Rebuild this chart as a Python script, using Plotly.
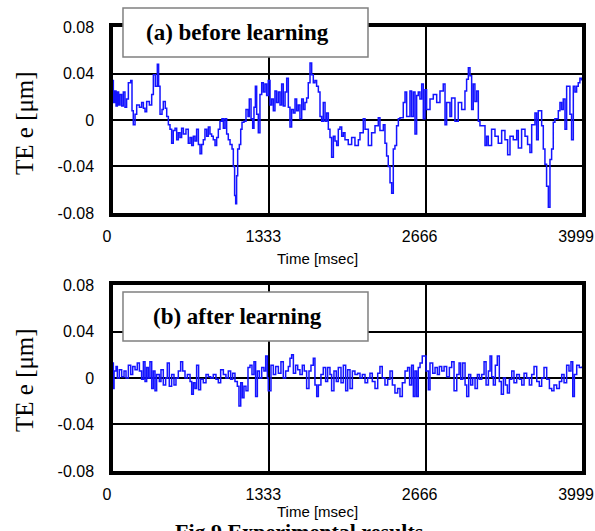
import plotly.graph_objects as go

# ---------------- data ----------------
# (a) before learning : time [msec], tracking error e [um]
t_a = [0, 3, 14, 26, 37, 48, 60, 74, 88, 102,
       116, 131, 151, 162, 173, 188, 202, 225, 244, 259,
       273, 287, 310, 330, 344, 361, 378, 389, 401, 418,
       429, 446, 458, 472, 486, 500, 514, 529, 543, 557,
       571, 585, 600, 622, 642, 657, 671, 685, 699, 713,
       728, 742, 756, 770, 784, 799, 813, 827, 841, 855,
       870, 884, 898, 912, 929, 941, 955, 969, 983, 998,
       1015, 1026, 1037, 1046, 1054, 1063, 1077, 1089, 1100, 1117,
       1134, 1151, 1162, 1177, 1191, 1202, 1214, 1225, 1239, 1253,
       1268, 1282, 1296, 1310, 1324, 1339, 1353, 1367, 1381, 1395,
       1410, 1424, 1438, 1452, 1467, 1481, 1495, 1509, 1523, 1538,
       1552, 1566, 1580, 1594, 1609, 1623, 1637, 1651, 1665, 1680,
       1694, 1708, 1722, 1736, 1751, 1765, 1779, 1793, 1808, 1822,
       1836, 1850, 1864, 1879, 1893, 1907, 1921, 1935, 1950, 1964,
       1978, 2006, 2035, 2063, 2092, 2106, 2134, 2149, 2177, 2205,
       2234, 2262, 2276, 2305, 2319, 2333, 2347, 2362, 2376, 2390,
       2404, 2418, 2433, 2447, 2475, 2490, 2504, 2532, 2546, 2561,
       2575, 2589, 2603, 2617, 2632, 2646, 2660, 2674, 2703, 2731,
       2760, 2788, 2816, 2831, 2845, 2873, 2887, 2916, 2944, 2973,
       3001, 3015, 3030, 3044, 3058, 3072, 3086, 3101, 3115, 3129,
       3157, 3172, 3186, 3200, 3228, 3257, 3285, 3314, 3342, 3365,
       3385, 3413, 3442, 3456, 3484, 3513, 3535, 3555, 3570, 3598,
       3612, 3626, 3655, 3669, 3683, 3697, 3712, 3726, 3740, 3754,
       3768, 3797, 3811, 3825, 3839, 3854, 3868, 3882, 3896, 3910,
       3925, 3939, 3953, 3967, 3981, 3995]
e_a = [0.034, 0.015, 0.025, 0.012, 0.024, 0.013, 0.022, 0.012, 0.024, 0.011,
       0.018, 0.032, 0.034, 0.008, -0.004, 0.005, 0.013, 0.011, 0.015, 0.010,
       0.007, 0.016, 0.013, 0.022, 0.039, 0.029, 0.048, 0.029, 0.005, 0.009,
       0.016, 0.010, 0.003, -0.004, -0.008, -0.020, -0.009, -0.007, -0.017, -0.011,
       -0.015, -0.007, -0.012, -0.008, -0.020, -0.015, -0.022, -0.014, -0.018, -0.008,
       -0.021, -0.029, -0.021, -0.017, -0.008, -0.014, -0.006, -0.012, -0.014, -0.017,
       -0.022, -0.015, -0.008, -0.001, 0.001, -0.007, 0.001, -0.012, -0.017, -0.021,
       -0.025, -0.040, -0.065, -0.072, -0.048, -0.025, -0.021, -0.008, -0.002, -0.001,
       0.009, 0.003, 0.018, 0.001, -0.007, 0.011, 0.029, 0.005, -0.011, 0.022,
       0.032, 0.024, 0.031, 0.021, 0.034, 0.013, 0.018, 0.008, 0.025, 0.015,
       0.024, 0.013, 0.031, 0.012, 0.024, 0.036, 0.011, -0.006, 0.009, 0.006,
       0.018, 0.008, 0.013, 0.001, 0.018, 0.009, 0.015, 0.019, 0.032, 0.049,
       0.039, 0.032, 0.034, 0.029, 0.024, 0.003, -0.001, 0.015, -0.001, 0.006,
       -0.008, -0.015, -0.032, -0.014, -0.018, -0.022, -0.008, -0.006, -0.014, -0.011,
       -0.017, -0.021, -0.015, -0.022, -0.017, -0.011, 0.001, -0.008, -0.022, -0.011,
       -0.005, 0.002, -0.009, -0.004, -0.020, -0.031, -0.040, -0.054, -0.063, -0.025,
       -0.022, -0.005, 0.001, 0.002, 0.015, 0.024, 0.003, 0.025, 0.003, 0.024,
       -0.012, 0.021, 0.024, 0.018, 0.031, 0.001, 0.026, 0.009, 0.018, 0.022,
       0.015, 0.025, 0.031, -0.004, 0.015, 0.003, 0.019, -0.001, 0.015, 0.009,
       0.025, 0.035, 0.045, 0.038, 0.009, 0.031, 0.016, 0.025, -0.001, -0.005,
       -0.005, -0.022, -0.014, -0.022, -0.008, -0.014, -0.020, -0.009, -0.017, -0.030,
       -0.014, -0.017, -0.009, -0.024, -0.008, -0.014, -0.021, -0.028, -0.004, 0.006,
       -0.017, 0.008, -0.005, -0.025, -0.038, -0.057, -0.075, -0.034, -0.025, -0.002,
       0.001, 0.008, 0.015, 0.009, 0.018, -0.008, 0.029, 0.029, 0.005, -0.017,
       0.029, 0.024, 0.029, 0.032, 0.036, 0.034]

# (b) after learning
t_b = [0, 3, 9, 26, 37, 54, 74, 94, 111, 131,
       151, 168, 188, 207, 225, 244, 259, 273, 287, 301,
       315, 330, 344, 358, 372, 395, 409, 429, 449, 463,
       480, 500, 520, 537, 557, 577, 594, 614, 634, 657,
       671, 685, 699, 713, 730, 747, 770, 793, 813, 833,
       855, 878, 898, 918, 941, 963, 983, 1003, 1020, 1040,
       1060, 1074, 1089, 1103, 1117, 1134, 1151, 1168, 1185, 1202,
       1216, 1231, 1248, 1268, 1287, 1302, 1316, 1324, 1347, 1367,
       1387, 1410, 1432, 1452, 1472, 1495, 1509, 1523, 1538, 1557,
       1575, 1594, 1614, 1631, 1651, 1671, 1688, 1708, 1722, 1737,
       1751, 1773, 1793, 1813, 1830, 1850, 1864, 1884, 1904, 1921,
       1944, 1964, 1984, 2001, 2021, 2041, 2063, 2086, 2106, 2126,
       2149, 2171, 2191, 2211, 2234, 2257, 2276, 2296, 2319, 2342,
       2362, 2382, 2404, 2427, 2447, 2467, 2490, 2512, 2529, 2546,
       2561, 2575, 2589, 2603, 2618, 2637, 2652, 2669, 2689, 2703,
       2726, 2746, 2766, 2783, 2803, 2823, 2845, 2868, 2888, 2908,
       2931, 2951, 2965, 2982, 3002, 3016, 3033, 3050, 3067, 3087,
       3107, 3124, 3144, 3164, 3181, 3201, 3215, 3229, 3243, 3260,
       3277, 3294, 3311, 3329, 3346, 3363, 3380, 3400, 3419, 3442,
       3465, 3485, 3505, 3527, 3550, 3570, 3590, 3613, 3635, 3655,
       3675, 3698, 3721, 3741, 3760, 3783, 3806, 3826, 3846, 3868,
       3888, 3905, 3920, 3934, 3954, 3976, 3996]
e_b = [0.013, -0.009, 0.006, 0.010, 0.000, 0.007, 0.001, 0.006, 0.000, 0.011,
       0.003, 0.010, 0.007, 0.013, 0.006, -0.001, 0.014, -0.003, 0.009, 0.000,
       0.014, -0.009, 0.006, -0.011, 0.003, -0.003, 0.007, -0.006, 0.000, 0.013,
       -0.007, 0.003, -0.006, 0.000, 0.006, 0.014, 0.006, 0.000, 0.003, -0.003,
       -0.014, -0.004, -0.009, 0.011, -0.010, -0.001, -0.004, 0.003, 0.001, 0.000,
       0.003, -0.001, -0.004, 0.007, 0.003, 0.000, 0.006, -0.001, 0.004, -0.003,
       -0.007, -0.024, -0.004, -0.017, -0.007, -0.011, 0.009, 0.011, 0.003, 0.014,
       -0.016, 0.006, 0.000, 0.009, 0.006, 0.019, 0.000, -0.011, 0.011, 0.003,
       0.010, 0.004, 0.014, 0.000, 0.006, 0.010, 0.017, 0.020, 0.004, 0.011,
       0.007, 0.003, 0.011, 0.006, -0.009, 0.006, 0.011, 0.017, -0.006, -0.016,
       -0.006, 0.003, 0.009, -0.003, 0.009, 0.003, -0.011, 0.006, -0.003, 0.009,
       -0.004, 0.011, -0.011, 0.007, -0.009, 0.006, 0.003, 0.004, 0.000, 0.003,
       -0.004, 0.000, 0.004, -0.003, -0.009, 0.004, 0.010, 0.000, -0.006, -0.001,
       0.006, -0.006, -0.013, -0.009, -0.016, -0.004, 0.006, 0.009, -0.006, 0.011,
       -0.016, 0.006, -0.016, 0.009, 0.013, 0.019, 0.019, 0.006, -0.010, 0.013,
       0.004, 0.009, 0.003, 0.010, 0.006, 0.010, 0.001, 0.009, 0.014, -0.011,
       0.003, 0.013, -0.001, 0.013, -0.006, -0.016, 0.003, -0.006, 0.000, -0.009,
       0.003, -0.001, 0.003, 0.014, -0.006, 0.006, 0.019, 0.001, -0.006, 0.011,
       0.019, -0.003, -0.014, 0.000, -0.006, -0.013, -0.001, 0.006, -0.004, 0.003,
       -0.001, -0.006, 0.004, 0.000, -0.006, 0.003, 0.010, -0.003, -0.007, 0.000,
       0.009, -0.001, -0.009, -0.011, -0.006, -0.009, -0.003, 0.003, -0.004, 0.011,
       0.006, 0.014, -0.016, 0.003, 0.011, 0.009, 0.010]

assert len(t_a) == len(e_a), (len(t_a), len(e_a))
assert len(t_b) == len(e_b), (len(t_b), len(e_b))

x_ticks = [0, 1333, 2666, 3999]
x_labels = ["0", "1333", "2666", "3999"]
y_ticks = [-0.08, -0.04, 0, 0.04, 0.08]
y_labels = ["-0.08", "-0.04", "0", "0.04", "0.08"]

panel_titles = ["(a) before learning", "(b) after learning"]
x_title = "Time [msec]"
y_title = "TE e [μm]"
caption = "Fig.9 Experimental results"

# ---------------- figure ----------------
LINE = dict(color="#1414ff", width=1.5, shape="hv")
fig = go.Figure()
fig.add_trace(go.Scatter(x=t_a, y=e_a, mode="lines", line=LINE,
                         xaxis="x", yaxis="y", showlegend=False))
fig.add_trace(go.Scatter(x=t_b, y=e_b, mode="lines", line=LINE,
                         xaxis="x2", yaxis="y2", showlegend=False))

tickfont = dict(family="Liberation Sans, Arial, sans-serif", size=16, color="black")
xcommon = dict(range=[0, 3999], tickvals=x_ticks, ticktext=x_labels,
               showgrid=True, gridcolor="black", gridwidth=2,
               showline=True, linecolor="black", linewidth=3.5, mirror=True,
               ticks="", zeroline=False, tickfont=tickfont, automargin=False,
               ticklabelstandoff=6, ticklabelshift=-6,
               ticklabeloverflow="allow", domain=[0, 1])
ycommon = dict(range=[-0.08, 0.08], tickvals=y_ticks, ticktext=y_labels,
               showgrid=True, gridcolor="black", gridwidth=2,
               showline=True, linecolor="black", linewidth=3.5, mirror=True,
               ticks="", zeroline=False, tickfont=tickfont, automargin=False,
               ticklabelstandoff=12, ticklabeloverflow="allow")

TOP_DOM = [0.5811, 1.0]
BOT_DOM = [0.0, 0.4189]

fig.update_layout(
    width=595, height=531,
    margin=dict(l=113, r=13, t=27, b=60, autoexpand=False),
    paper_bgcolor="white", plot_bgcolor="white",
    xaxis=dict(anchor="y", **xcommon),
    yaxis=dict(anchor="x", domain=TOP_DOM, **ycommon),
    xaxis2=dict(anchor="y2", **xcommon),
    yaxis2=dict(anchor="x2", domain=BOT_DOM, **ycommon),
)

shapes = []
annotations = []
for (y0, y1, ytxt, title) in [(0.9324, 1.0428, 0.9876, panel_titles[0]),
                              (0.2928, 0.4032, 0.3480, panel_titles[1])]:
    shapes.append(dict(type="rect", xref="paper", yref="paper",
                       x0=0.0213, x1=0.5437, y0=y0, y1=y1,
                       fillcolor="white", line=dict(color="#808080", width=1.5),
                       layer="above"))
    annotations.append(dict(xref="paper", yref="paper", x=0.266, y=ytxt,
                            text="<b>" + title + "</b>", showarrow=False,
                            xanchor="center", yanchor="middle",
                            font=dict(family="Liberation Serif, Times New Roman, serif",
                                      size=23, color="black")))

for ycen in [0.7838, 0.205]:
    annotations.append(dict(xref="paper", yref="paper", x=-0.1876, y=ycen,
                            text=y_title, textangle=-90, showarrow=False,
                            xanchor="center", yanchor="middle",
                            font=dict(family="Liberation Serif, Times New Roman, serif",
                                      size=25, color="black")))

for ycen in [0.4775, -0.0901]:
    annotations.append(dict(xref="paper", yref="paper", x=0.435, y=ycen,
                            text=x_title, showarrow=False,
                            xanchor="center", yanchor="middle",
                            font=dict(family="Liberation Sans, Arial, sans-serif",
                                      size=15, color="black")))

annotations.append(dict(xref="paper", yref="paper", x=0.3987, y=-0.104,
                        text="<b>" + caption + "</b>", showarrow=False,
                        xanchor="center", yanchor="top",
                        font=dict(family="Liberation Serif, Times New Roman, serif",
                                  size=22, color="black")))

fig.update_layout(shapes=shapes, annotations=annotations)
fig.write_html("out.html")
